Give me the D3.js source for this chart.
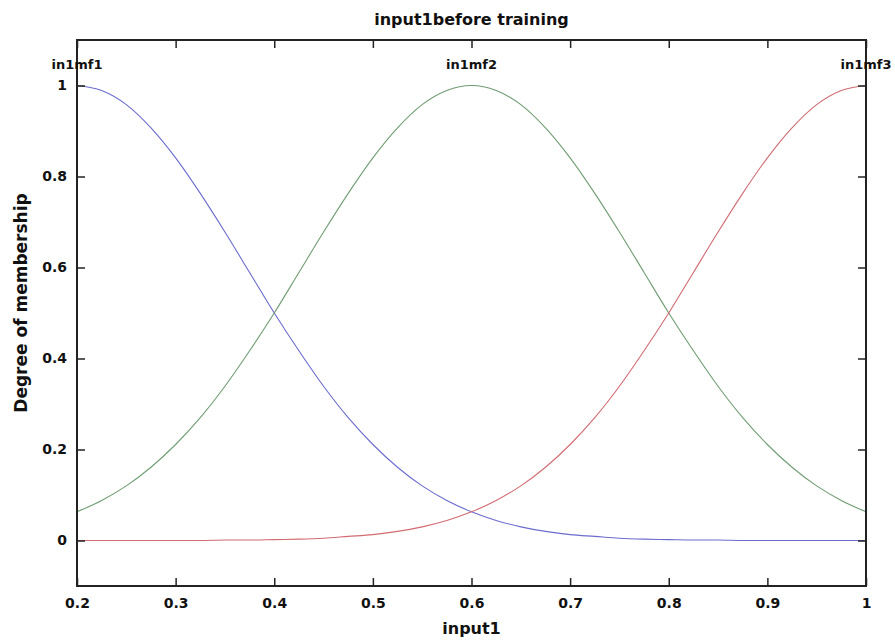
<!DOCTYPE html>
<html>
<head>
<meta charset="utf-8">
<script src="https://cdn.jsdelivr.net/npm/d3@7"></script>
<style>
  body { margin: 0; background: #fff; }
  text { font-family: "DejaVu Sans", sans-serif; font-weight: bold; fill: #111; }
</style>
</head>
<body>
<div id="chart"></div>
<script>
// x samples of input1 (step 0.025)
const xValues = d3.range(33).map((i) => +(0.2 + i * 0.025).toFixed(3));

// membership values
const mf1 = [1, 0.989, 0.958, 0.907, 0.841, 0.763, 0.678, 0.589, 0.5, 0.417, 0.339,
  0.27, 0.211, 0.161, 0.12, 0.088, 0.063, 0.044, 0.03, 0.02, 0.013, 0.009, 0.005,
  0.003, 0.002, 0.001, 0.001, 0, 0, 0, 0, 0, 0];
const mf2 = [0.063, 0.088, 0.12, 0.161, 0.211, 0.27, 0.339, 0.417, 0.5, 0.589, 0.678,
  0.763, 0.841, 0.907, 0.958, 0.989, 1, 0.989, 0.958, 0.907, 0.841, 0.763, 0.678,
  0.589, 0.5, 0.417, 0.339, 0.27, 0.211, 0.161, 0.12, 0.088, 0.063];
const mf3 = [0, 0, 0, 0, 0, 0, 0.001, 0.001, 0.002, 0.003, 0.005, 0.009, 0.013,
  0.02, 0.03, 0.044, 0.063, 0.088, 0.12, 0.161, 0.211, 0.27, 0.339, 0.417, 0.5,
  0.589, 0.678, 0.763, 0.841, 0.907, 0.958, 0.989, 1];

const mfNames = ["in1mf1", "in1mf2", "in1mf3"];
const mfPeaks = [0.2, 0.6, 1.0];
const mfColors = ["#6b6bd0", "#6f9c72", "#d26b72"];
const xTicks = [0.2, 0.3, 0.4, 0.5, 0.6, 0.7, 0.8, 0.9, 1];
const yTicks = [0, 0.2, 0.4, 0.6, 0.8, 1];

const margin = {top: 40, right: 29, bottom: 55, left: 77},
    width = 895 - margin.left - margin.right,
    height = 641 - margin.top - margin.bottom;

const svg = d3.select("#chart")
    .append("svg")
    .attr("width", 895)
    .attr("height", 641)
    .append("g")
    .attr("transform", `translate(${margin.left},${margin.top})`);

const x = d3.scaleLinear().domain([0.2, 1]).range([0, width]);
const y = d3.scaleLinear().domain([-0.1, 1.1]).range([height, 0]);

const line = d3.line()
    .x((d) => x(d[0]))
    .y((d) => y(d[1]))
    .curve(d3.curveMonotoneX);

[mf1, mf2, mf3].forEach((vals, i) => {
    svg.append("path")
        .datum(xValues.map((xv, j) => [xv, vals[j]]))
        .attr("fill", "none")
        .attr("stroke", mfColors[i])
        .attr("stroke-width", 1.1)
        .attr("d", line);
});

// axes with inward ticks on all four sides
const fmt = (d) => (d === 0 || d === 1 ? String(d) : d3.format(".1f")(d));

const styleAxis = (g) => {
    g.select(".domain").remove();
    g.selectAll(".tick line").attr("stroke", "#222").attr("stroke-width", 1.5);
    g.selectAll("text").style("font-size", "14px");
};

svg.append("g")
    .attr("transform", `translate(0,${height})`)
    .call(d3.axisBottom(x).tickValues(xTicks).tickSize(-8).tickPadding(12).tickFormat(fmt))
    .call(styleAxis);
svg.append("g")
    .call(d3.axisTop(x).tickValues(xTicks).tickSize(-8).tickFormat(""))
    .call(styleAxis);
svg.append("g")
    .call(d3.axisLeft(y).tickValues(yTicks).tickSize(-8).tickPadding(10).tickFormat(fmt))
    .call(styleAxis);
svg.append("g")
    .attr("transform", `translate(${width},0)`)
    .call(d3.axisRight(y).tickValues(yTicks).tickSize(-8).tickFormat(""))
    .call(styleAxis);

svg.append("rect")
    .attr("width", width)
    .attr("height", height)
    .attr("fill", "none")
    .attr("stroke", "#222")
    .attr("stroke-width", 2);

// membership function labels
svg.selectAll(".mflabel")
    .data(mfNames)
    .join("text")
    .attr("class", "mflabel")
    .attr("x", (d, i) => x(mfPeaks[i]))
    .attr("y", y(1) - 17)
    .attr("text-anchor", "middle")
    .style("font-size", "13px")
    .text((d) => d);

svg.append("text")
    .attr("x", width / 2)
    .attr("y", -15)
    .attr("text-anchor", "middle")
    .style("font-size", "16px")
    .text("input1before training");

svg.append("text")
    .attr("x", width / 2)
    .attr("y", height + 48)
    .attr("text-anchor", "middle")
    .style("font-size", "16px")
    .text("input1");

svg.append("text")
    .attr("transform", "rotate(-90)")
    .attr("x", -height / 2 + 10)
    .attr("y", -50)
    .attr("text-anchor", "middle")
    .style("font-size", "17px")
    .text("Degree of membership");
</script>
</body>
</html>
